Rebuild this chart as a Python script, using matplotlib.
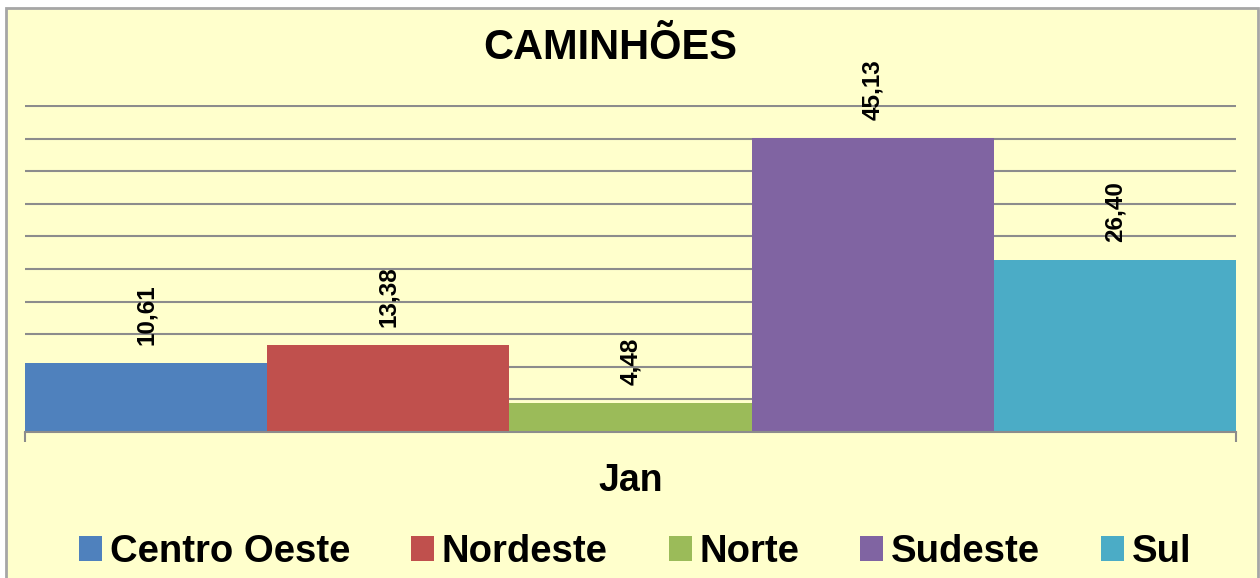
import matplotlib.pyplot as plt
from matplotlib.patches import Rectangle

regioes = ["Centro Oeste", "Nordeste", "Norte", "Sudeste", "Sul"]
valores = [10.61, 13.38, 4.48, 45.13, 26.40]
cores = ["#4F81BD", "#C0504D", "#9BBB59", "#8064A2", "#4BACC6"]
categoria = "Jan"
titulo = "CAMINHÕES"

plt.rcParams["font.family"] = ["Liberation Sans", "DejaVu Sans"]
plt.rcParams["font.weight"] = "bold"

fig = plt.figure(figsize=(12.6, 5.78), dpi=100, facecolor="white")

# chart area (yellow frame), kept underneath the axes
fig.patches.append(Rectangle((6 / 1260, -0.02), 1252 / 1260, 570 / 578 + 0.02,
                             transform=fig.transFigure, facecolor="#FFFFCC",
                             edgecolor="#A6A6A6", linewidth=2, zorder=-10))

# top slightly above 50 so the last gridline isn't clipped
ax = fig.add_axes([25 / 1260, 1 - 432 / 578, 1211 / 1260, 327.3 / 578])
ax.set_facecolor("none")

xs = list(range(len(regioes)))
bars = ax.bar(xs, valores, width=1.0, color=cores, label=regioes, zorder=2)

for x, v in zip(xs, valores):
    ax.annotate(f"{v:.2f}".replace(".", ","), (x, v), xytext=(0, 13),
                textcoords="offset points", rotation=90, ha="center", va="bottom",
                fontsize=17.5, fontweight="bold")

ax.set_xlim(-0.5, 4.5)
ax.set_ylim(0, 50.2)
ax.set_yticks(range(5, 51, 5))
ax.yaxis.grid(True, color="#8C8C8C", linewidth=1.5)
ax.set_axisbelow(True)
ax.tick_params(axis="y", length=0, labelleft=False)

ax.set_xticks([2])
ax.set_xticklabels([categoria], fontsize=27, fontweight="bold")
ax.tick_params(axis="x", length=0, pad=22)
ax.set_xticks([-0.5, 4.5], minor=True)
ax.tick_params(axis="x", which="minor", length=7, width=1.5, color="#8C8C8C")

for s in ["left", "right", "top"]:
    ax.spines[s].set_visible(False)
ax.spines["bottom"].set_color("#8C8C8C")
ax.spines["bottom"].set_linewidth(1.5)

fig.text(610 / 1260, 1 - 48 / 578, titulo, ha="center", va="center",
         fontsize=30, fontweight="bold")

fig.legend(handles=bars, labels=regioes, loc="center", ncol=5,
           bbox_to_anchor=(635 / 1260, 1 - 552 / 578), frameon=False,
           prop={"size": 27.5, "weight": "bold"}, handlelength=0.6,
           handleheight=0.6, handletextpad=0.2, columnspacing=1.6)

fig.savefig("out.png", dpi=100)
